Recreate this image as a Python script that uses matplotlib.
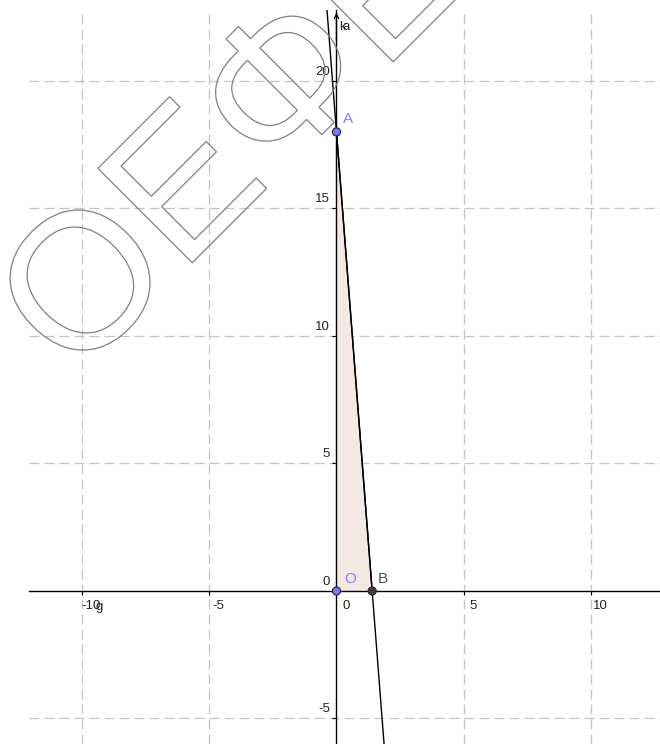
import numpy as np
import matplotlib
matplotlib.use("Agg")
import matplotlib.pyplot as plt
from matplotlib.textpath import TextPath
from matplotlib.patches import PathPatch
from matplotlib.font_manager import FontProperties
from matplotlib.transforms import Affine2D

# points of the triangle
point_names = ["O", "A", "B"]
point_x = [0, 0, 1.4]
point_y = [0, 18, 0]
point_colors = ["#7878ff", "#7878ff", "#404040"]

# grid / tick values
x_ticks = [-10, -5, 5, 10]
y_ticks = [-5, 5, 10, 15, 20]
x_labels = ["-10", "-5", "0", "5", "10"]
x_label_pos = [-10, -5, 0, 5, 10]
y_labels = ["-5", "0", "5", "10", "15", "20"]
y_label_pos = [-5, 0, 5, 10, 15, 20]

watermark = "ΟΕΦΕ"

plt.rcParams['font.family'] = ['Liberation Sans', 'DejaVu Sans']

fig = plt.figure(figsize=(6.6, 7.44), dpi=100)
ax = fig.add_axes([29 / 660, 0, 631 / 660, 734 / 744])
ax.set_xlim(-12.06, 12.69)
ax.set_ylim(-6.0, 22.78)

# axes through the origin
for s in ["top", "right"]:
    ax.spines[s].set_visible(False)
ax.spines["left"].set_position(("data", 0))
ax.spines["bottom"].set_position(("data", 0))
ax.spines["left"].set_linewidth(1.0)
ax.spines["bottom"].set_linewidth(1.0)
ax.set_xticks(x_ticks)
ax.set_yticks(y_ticks)
ax.tick_params(direction="out", length=3, width=0.8,
               labelbottom=False, labelleft=False)
ax.grid(True, color="#c4c4c4", linestyle=(0, (8, 4)), linewidth=0.9)
ax.set_axisbelow(True)

# arrow at the top of the y axis
ax.annotate("", xy=(0, 22.78), xytext=(0, 21.5),
            arrowprops=dict(arrowstyle="->", lw=0.9, color="black",
                            mutation_scale=8), annotation_clip=False)

# tick labels
for lab, v in zip(x_labels, x_label_pos):
    ax.annotate(lab, xy=(v, 0), xytext=(6.8, -6.5), textcoords="offset points",
                ha="center", va="top", fontsize=9.5, color="#222222")
for lab, v in zip(y_labels, y_label_pos):
    ax.annotate(lab, xy=(0, v), xytext=(-4.5, 2.2), textcoords="offset points",
                ha="right", va="bottom", fontsize=9.5, color="#222222")

# triangle OAB
ax.fill(point_x, point_y, color="#f4e8e3", zorder=1)
ax.plot([point_x[1], point_x[2]], [point_y[1], point_y[2]], color="black", lw=1.0)
ax.axline((point_x[1], point_y[1]), (point_x[2], point_y[2]), color="black", lw=1.0)

ax.scatter(point_x, point_y, s=34, c=point_colors, edgecolors="#222222",
           linewidths=0.8, zorder=5, clip_on=False)

# point labels
ax.text(0.25, 18.35, "A", color="#8080ff", fontsize=11)
ax.text(0.3, 0.3, "O", color="#8080ff", fontsize=11)
ax.text(1.62, 0.3, "B", color="#505050", fontsize=11)

# overlapping labels near the axes
ax.text(0.1, 22.0, "k", color="#222222", fontsize=9.5)
ax.text(0.22, 22.0, "a", color="#222222", fontsize=9.5)
ax.text(-9.45, -0.75, "g", color="#222222", fontsize=9.5)

# watermark outline, rotated 45 degrees
fp = FontProperties(family="Liberation Sans")
S = 194
tp = TextPath((0, 0), watermark, size=S, prop=fp)
tp_o = TextPath((0, 0), watermark[0], size=S, prop=fp)
v = tp.vertices
xE = v[v[:, 0] > tp_o.vertices[:, 0].max() + 2, 0].min()
c = np.cos(np.pi / 4)
trans = Affine2D().rotate_deg(45).translate(181 - xE * c, 470 - xE * c)
wm = PathPatch(tp, transform=trans, facecolor="none", edgecolor="#808080",
               lw=0.9, zorder=10)
fig.add_artist(wm)

fig.savefig("out.png", dpi=100)
